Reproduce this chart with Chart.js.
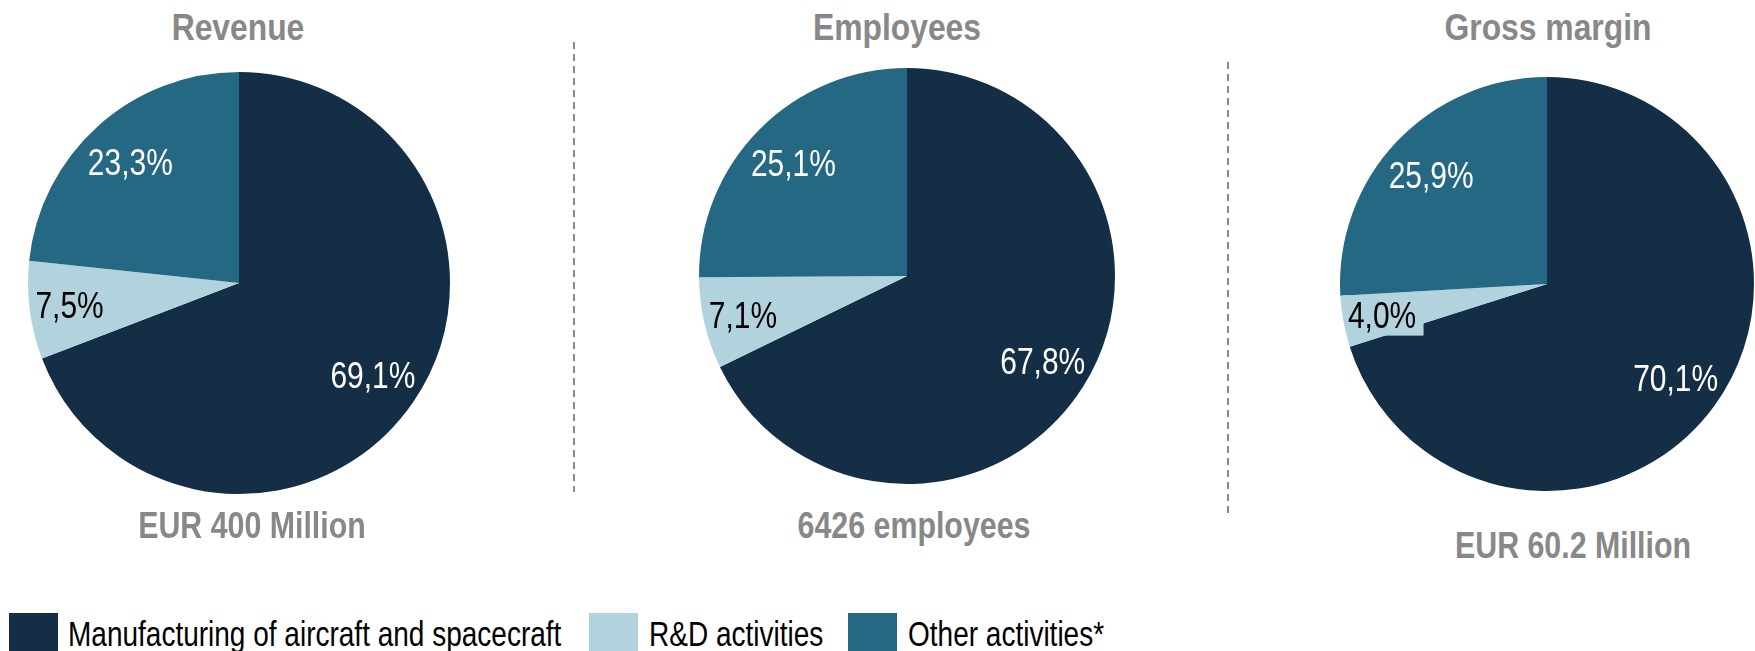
<!DOCTYPE html>
<html>
<head>
<meta charset="utf-8">
<script src="https://cdn.jsdelivr.net/npm/chart.js@4/dist/chart.umd.min.js"></script>
<style>
  html, body { margin: 0; padding: 0; background: #fff; }
  #stage { position: relative; width: 1755px; height: 651px; overflow: hidden; font-family: "Liberation Sans", Arial, sans-serif; }
  #stage canvas { position: absolute; }
  .head { position: absolute; font-weight: bold; color: #888; font-size: 37px; line-height: 37px; white-space: nowrap; transform: translateX(-50%) scaleX(.86); }
  .legend-item { position: absolute; top: 613px; height: 49px; }
  .legend-item .sw { position: absolute; left: 0; top: 0; width: 49px; height: 49px; }
  .legend-item .tx { position: absolute; top: 3px; font-size: 35px; line-height: 35px; color: #000; white-space: nowrap; transform: scaleX(.8); transform-origin: left top; }
  svg { position: absolute; left: 0; top: 0; }
</style>
</head>
<body>
<div id="stage">
  <svg width="1755" height="651">
    <line x1="574" y1="42" x2="574" y2="492" stroke="#8a8a8a" stroke-width="2" stroke-dasharray="7 5"/>
    <line x1="1228" y1="62" x2="1228" y2="515" stroke="#8a8a8a" stroke-width="2" stroke-dasharray="7 5"/>
  </svg>
</div>
<script>
// data
const categories = ['Manufacturing of aircraft and spacecraft', 'R&D activities', 'Other activities*'];
const revenueShare = [69.1, 7.5, 23.3];
const employeeShare = [67.8, 7.1, 25.1];
const marginShare = [70.1, 4.0, 25.9];
const chartTitles = ['Revenue', 'Employees', 'Gross margin'];
const chartTotals = ['EUR 400 Million', '6426 employees', 'EUR 60.2 Million'];

const colors = ['#142e46', '#b2d3de', '#246883'];
const labelColors = ['#fff', '#000', '#fff'];

// where each pie sits on the page
const pies = [
  { values: revenueShare, cx: 239, cy: 283, r: 211, titleX: 238, totalX: 252, totalY: 507 },
  { values: employeeShare, cx: 907, cy: 276, r: 208, titleX: 897, totalX: 914, totalY: 507 },
  { values: marginShare, cx: 1547, cy: 284, r: 207, titleX: 1548, totalX: 1573, totalY: 527 }
];

const stage = document.getElementById('stage');
const PAD = 12;
const FONT = 37;

const pctLabels = {
  id: 'pctLabels',
  afterDatasetsDraw(chart) {
    const ctx = chart.ctx;
    const meta = chart.getDatasetMeta(0);
    const vals = chart.data.datasets[0].data;
    meta.data.forEach((arc, i) => {
      const p = arc.getProps(['x', 'y', 'startAngle', 'endAngle', 'outerRadius'], true);
      const mid = (p.startAngle + p.endAngle) / 2;
      const small = (p.endAngle - p.startAngle) < 0.6;
      const dist = p.outerRadius * (small ? 0.81 : 0.77);
      const x = p.x + Math.cos(mid) * dist;
      const y = p.y + Math.sin(mid) * dist;
      const txt = vals[i].toFixed(1).replace('.', ',') + '%';
      ctx.save();
      if (small) {
        // keep the label box inside the pie
        ctx.beginPath();
        ctx.arc(p.x, p.y, p.outerRadius - 1, 0, Math.PI * 2);
        ctx.clip();
      }
      ctx.translate(x, y);
      ctx.scale(0.81, 1);
      ctx.font = FONT + 'px "Liberation Sans", Arial, sans-serif';
      ctx.textAlign = 'center';
      ctx.textBaseline = 'alphabetic';
      const w = ctx.measureText(txt).width;
      const cap = FONT * 0.716;
      if (small) {
        // filled label box, visible where it spills over the next slice
        ctx.fillStyle = colors[i];
        ctx.fillRect(-w / 2 - 7, -cap / 2 - 6, w + 16, cap + 14);
      }
      ctx.fillStyle = labelColors[i];
      ctx.fillText(txt, 0, cap / 2);
      ctx.restore();
    });
  }
};

pies.forEach((pie, k) => {
  const cv = document.createElement('canvas');
  const size = pie.r * 2 + PAD * 2;
  cv.width = size; cv.height = size;
  cv.style.width = size + 'px'; cv.style.height = size + 'px';
  cv.style.left = (pie.cx - pie.r - PAD) + 'px';
  cv.style.top = (pie.cy - pie.r - PAD) + 'px';
  stage.appendChild(cv);

  new Chart(cv.getContext('2d'), {
    type: 'pie',
    data: {
      labels: categories,
      datasets: [{
        data: pie.values,
        backgroundColor: colors,
        borderWidth: 0,
        hoverBorderWidth: 0,
        hoverOffset: 0
      }]
    },
    options: {
      responsive: false,
      animation: false,
      events: [],
      layout: { padding: PAD },
      plugins: { legend: { display: false }, tooltip: { enabled: false } }
    },
    plugins: [pctLabels]
  });

  const t = document.createElement('div');
  t.className = 'head';
  t.textContent = chartTitles[k];
  t.style.left = pie.titleX + 'px';
  t.style.top = '9px';
  stage.appendChild(t);

  const s = document.createElement('div');
  s.className = 'head';
  s.textContent = chartTotals[k];
  s.style.left = pie.totalX + 'px';
  s.style.top = pie.totalY + 'px';
  s.style.transform = 'translateX(-50%) scaleX(.82)';
  stage.appendChild(s);
});

// legend shared by the three pies
const legendX = [9, 589, 848];
categories.forEach((c, i) => {
  const item = document.createElement('div');
  item.className = 'legend-item';
  item.style.left = legendX[i] + 'px';
  item.innerHTML = '<div class="sw"></div><div class="tx"></div>';
  item.querySelector('.sw').style.background = colors[i];
  const tx = item.querySelector('.tx');
  tx.style.left = (i === 0 ? 59 : 60) + 'px';
  tx.textContent = c;
  stage.appendChild(item);
});
</script>
</body>
</html>
